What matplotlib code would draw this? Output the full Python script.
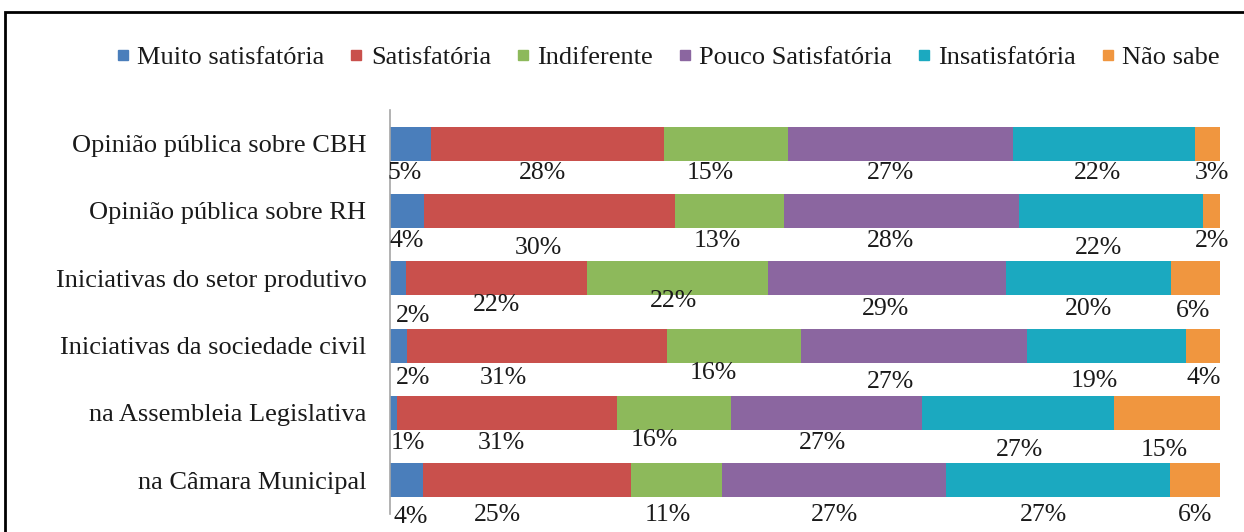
import matplotlib.pyplot as plt
import numpy as np
from matplotlib.lines import Line2D
from matplotlib.patches import Rectangle

plt.rcParams['font.family'] = ['Liberation Serif', 'DejaVu Serif']

# data
categorias = [
    'Opinião pública sobre CBH',
    'Opinião pública sobre RH',
    'Iniciativas do setor produtivo',
    'Iniciativas da sociedade civil',
    'na Assembleia Legislativa',
    'na Câmara Municipal',
]
series = ['Muito satisfatória', 'Satisfatória', 'Indiferente',
          'Pouco Satisfatória', 'Insatisfatória', 'Não sabe']
muito_satisf = [5, 4, 2, 2, 1, 4]
satisf = [28, 30, 22, 31, 31, 25]
indiferente = [15, 13, 22, 16, 16, 11]
pouco_satisf = [27, 28, 29, 27, 27, 27]
insatisf = [22, 22, 20, 19, 27, 27]
nao_sabe = [3, 2, 6, 4, 15, 6]

cores = ['#4A7EBB', '#C9504C', '#8DB95B', '#8B66A0', '#1BA9C0', '#F0963F']

# label nudges in pixels (dx, dy below bar bottom), one row per category
lab_dx = [[-6, -5, -16, -10, -6, 4],
          [0, -11, -12, -11, -13, 0],
          [15, 0, -4, -2, 0, -2],
          [15, -33, -20, -23, -13, 0],
          [14, -6, -19, -4, 2, -3],
          [4, -30, -9, 0, -15, 0]]
lab_dy = [[12, 12, 12, 12, 12, 12],
          [13, 20, 13, 13, 20, 13],
          [21, 10, 6, 14, 14, 16],
          [15, 15, 10, 19, 18, 15],
          [13, 13, 10, 13, 20, 20],
          [20, 18, 18, 18, 18, 18]]

valores = np.array([muito_satisf, satisf, indiferente, pouco_satisf, insatisf, nao_sabe]).T
totais = valores.sum(axis=1, keepdims=True)
pct = valores / totais * 100

W, H = 1244, 532
fig = plt.figure(figsize=(W / 100, H / 100), dpi=100)
ax = fig.add_axes([390 / W, 1 - 514 / H, (1220 - 390) / W, 404 / H])

y = np.arange(len(categorias))
altura = 0.505
esq = np.zeros(len(categorias))
for j, nome in enumerate(series):
    ax.barh(y, pct[:, j], left=esq, height=altura, color=cores[j], label=nome)
    for i in range(len(categorias)):
        cx = esq[i] + pct[i, j] / 2
        ax.annotate(f'{valores[i, j]}%', (cx, y[i] + altura / 2),
                    xytext=(lab_dx[i][j], -lab_dy[i][j]), textcoords='offset pixels',
                    ha='center', va='center', fontsize=18.5, color='#1a1a1a')
    esq += pct[:, j]

ax.set_xlim(0, 100)
ax.set_ylim(len(categorias) - 0.5, -0.5)
ax.set_yticks(y)
ax.set_yticklabels(categorias, fontsize=19, color='#1a1a1a')
ax.set_xticks([])
ax.tick_params(axis='y', length=0, pad=17)
for s in ['top', 'right', 'bottom']:
    ax.spines[s].set_visible(False)
ax.spines['left'].set_color('#A6A6A6')
ax.spines['left'].set_linewidth(1.2)

handles = [Line2D([], [], marker='s', linestyle='', markersize=6.5,
                  markerfacecolor=c, markeredgecolor=c) for c in cores]
fig.legend(handles, series, loc='center', bbox_to_anchor=(668 / W, 1 - 57 / H),
           ncol=6, frameon=False, fontsize=19, handlelength=0.5,
           handletextpad=0.3, columnspacing=0.95, labelcolor='#1a1a1a')

# outer frame (cut at the right and bottom)
fig.patches.append(Rectangle((5 / W, -0.1), 1.2, 1 - 12 / H + 0.1,
                             transform=fig.transFigure, fill=False,
                             edgecolor='black', linewidth=2))

fig.savefig('out.png', dpi=100)
